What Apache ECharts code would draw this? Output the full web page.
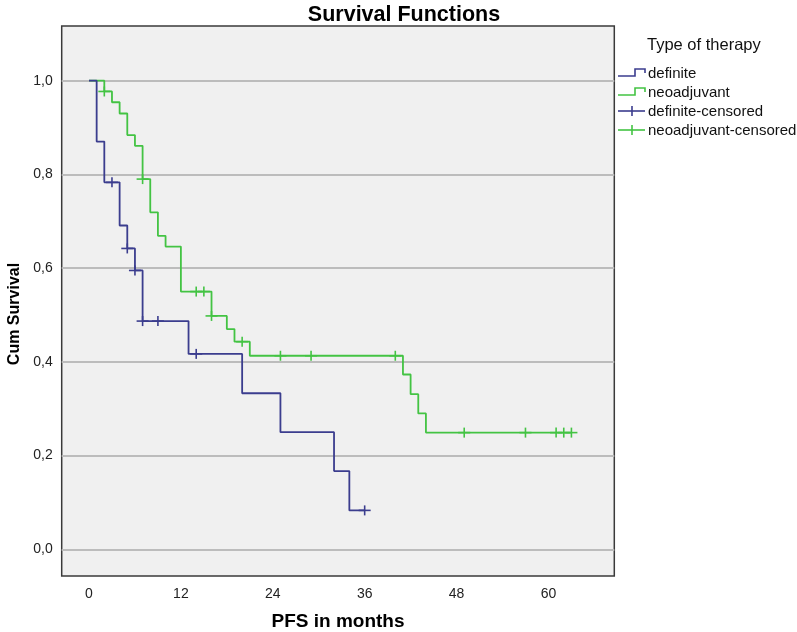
<!DOCTYPE html>
<html>
<head>
<meta charset="utf-8">
<script src="https://cdn.jsdelivr.net/npm/echarts@6/dist/echarts.min.js"></script>
<style>
  html, body { margin: 0; padding: 0; background: #ffffff; }
  #chart { width: 797px; height: 632px; }
</style>
</head>
<body>
<div id="chart"></div>
<script>
// ---- data ----
const seriesNames = ['definite', 'neoadjuvant', 'definite-censored', 'neoadjuvant-censored'];

const defTimes = [0, 1, 2, 4, 5, 6, 7, 13, 20, 25, 32, 34, 36];
const defSurv  = [1.000, 0.870, 0.783, 0.691, 0.642, 0.595, 0.487, 0.417, 0.333, 0.250, 0.167, 0.083, 0.083];
const defCensTimes = [3, 5, 6, 7, 9, 14, 36];
const defCensSurv  = [0.783, 0.642, 0.595, 0.487, 0.487, 0.417, 0.083];

const neoTimes = [0, 2, 3, 4, 5, 6, 7, 8, 9, 10, 12, 16, 18, 19, 21, 41, 42, 43, 44, 63];
const neoSurv  = [1.000, 0.977, 0.954, 0.930, 0.884, 0.861, 0.790, 0.719, 0.669, 0.646, 0.550, 0.498, 0.470, 0.443, 0.413, 0.373, 0.331, 0.290, 0.249, 0.249];
const neoCensTimes = [2, 7, 14, 15, 16, 20, 25, 29, 40, 49, 57, 61, 62, 63];
const neoCensSurv  = [0.977, 0.790, 0.550, 0.550, 0.498, 0.443, 0.413, 0.413, 0.413, 0.249, 0.249, 0.249, 0.249, 0.249];

const xTickValues = [0, 12, 24, 36, 48, 60];
const yTickValues = [0, 0.2, 0.4, 0.6, 0.8, 1.0];
const yTickLabels = ['0,0', '0,2', '0,4', '0,6', '0,8', '1,0'];

const titleText = 'Survival Functions';
const xName = 'PFS in months';
const yName = 'Cum Survival';
const legendTitle = 'Type of therapy';

// ---- styling ----
const BLUE = '#3b3d8e';
const GREEN = '#43c343';
const FONT = '"Liberation Sans", Arial, sans-serif';

const zip = (a, b) => a.map((v, i) => [v, b[i]]);

function censorRenderer(color) {
  return function (params, api) {
    const p = api.coord([api.value(0), api.value(1)]);
    const st = { stroke: color, lineWidth: 1.6 };
    return {
      type: 'group',
      children: [
        { type: 'line', shape: { x1: p[0] - 6, y1: p[1], x2: p[0] + 6, y2: p[1] }, style: st },
        { type: 'line', shape: { x1: p[0], y1: p[1] - 5, x2: p[0], y2: p[1] + 5 }, style: st }
      ]
    };
  };
}

const chart = echarts.init(document.getElementById('chart'), null, { renderer: 'canvas' });

// legend drawn as graphics (SPSS-style icons)
const LX = 618, LT = 648;
const legendRows = [73, 92, 111, 130];
const legendGraphics = [
  { type: 'text', left: 647, top: 37, style: { text: legendTitle, font: '16.5px ' + FONT, fill: '#111' } },
  { type: 'polyline', shape: { points: [[LX, legendRows[0] + 3], [LX + 17, legendRows[0] + 3], [LX + 17, legendRows[0] - 4], [LX + 27, legendRows[0] - 4], [LX + 27, legendRows[0]]] }, style: { stroke: BLUE, lineWidth: 1.6, fill: null } },
  { type: 'text', left: LT, top: legendRows[0] - 7, style: { text: seriesNames[0], font: '15px ' + FONT, fill: '#111' } },
  { type: 'polyline', shape: { points: [[LX, legendRows[1] + 3], [LX + 17, legendRows[1] + 3], [LX + 17, legendRows[1] - 4], [LX + 27, legendRows[1] - 4], [LX + 27, legendRows[1]]] }, style: { stroke: GREEN, lineWidth: 1.6, fill: null } },
  { type: 'text', left: LT, top: legendRows[1] - 7, style: { text: seriesNames[1], font: '15px ' + FONT, fill: '#111' } },
  { type: 'line', shape: { x1: LX, y1: legendRows[2], x2: LX + 27, y2: legendRows[2] }, style: { stroke: BLUE, lineWidth: 1.6 } },
  { type: 'line', shape: { x1: LX + 14, y1: legendRows[2] - 5, x2: LX + 14, y2: legendRows[2] + 5 }, style: { stroke: BLUE, lineWidth: 1.6 } },
  { type: 'text', left: LT, top: legendRows[2] - 7, style: { text: seriesNames[2], font: '15px ' + FONT, fill: '#111' } },
  { type: 'line', shape: { x1: LX, y1: legendRows[3], x2: LX + 27, y2: legendRows[3] }, style: { stroke: GREEN, lineWidth: 1.6 } },
  { type: 'line', shape: { x1: LX + 14, y1: legendRows[3] - 5, x2: LX + 14, y2: legendRows[3] + 5 }, style: { stroke: GREEN, lineWidth: 1.6 } },
  { type: 'text', left: LT, top: legendRows[3] - 7, style: { text: seriesNames[3], font: '15px ' + FONT, fill: '#111' } }
];

const option = {
  backgroundColor: '#ffffff',
  animation: false,
  title: {
    text: titleText,
    left: 399,
    top: -1,
    textAlign: 'center',
    textStyle: { fontFamily: FONT, fontSize: 21.5, fontWeight: 'bold', color: '#000' }
  },
  grid: {
    left: 61.7, right: 797 - 614.3, top: 26, bottom: 632 - 576,
    containLabel: false, outerBoundsMode: 'none',
    show: true, backgroundColor: '#f0f0f0', borderColor: '#3a3a3a', borderWidth: 1.5
  },
  xAxis: {
    type: 'value',
    min: -3.565, max: 68.6,
    name: xName, nameLocation: 'middle', nameGap: 36,
    nameTextStyle: { fontFamily: FONT, fontSize: 19, fontWeight: 'bold', color: '#000' },
    axisLine: { show: false },
    axisTick: { show: false, customValues: xTickValues },
    splitLine: { show: false },
    axisLabel: {
      customValues: xTickValues, margin: 11,
      fontFamily: FONT, fontSize: 14, color: '#222'
    }
  },
  yAxis: {
    type: 'value',
    min: -0.057, max: 1.1167,
    name: yName, nameLocation: 'middle', nameGap: 36,
    nameTextStyle: { fontFamily: FONT, fontSize: 16, fontWeight: 'bold', color: '#000', padding: [0, 26, 0, 0] },
    axisLine: { show: false },
    axisTick: { show: false, customValues: yTickValues },
    splitLine: { show: true, lineStyle: { color: '#bcbcbc', width: 1.8 } },
    axisLabel: {
      customValues: yTickValues, margin: 9,
      fontFamily: FONT, fontSize: 14, color: '#222',
      formatter: function (v) {
        const i = yTickValues.findIndex(t => Math.abs(t - v) < 1e-6);
        return i >= 0 ? yTickLabels[i] : '';
      }
    }
  },
  series: [
    {
      name: seriesNames[0], type: 'line', step: 'end', showSymbol: false, symbol: 'none',
      lineStyle: { color: BLUE, width: 1.8 }, itemStyle: { color: BLUE },
      data: zip(defTimes, defSurv), z: 3
    },
    {
      name: seriesNames[1], type: 'line', step: 'end', showSymbol: false, symbol: 'none',
      lineStyle: { color: GREEN, width: 1.8 }, itemStyle: { color: GREEN },
      data: zip(neoTimes, neoSurv), z: 2
    },
    {
      name: seriesNames[2], type: 'custom', renderItem: censorRenderer(BLUE),
      encode: { x: 0, y: 1 }, data: zip(defCensTimes, defCensSurv), z: 4
    },
    {
      name: seriesNames[3], type: 'custom', renderItem: censorRenderer(GREEN),
      encode: { x: 0, y: 1 }, data: zip(neoCensTimes, neoCensSurv), z: 4
    }
  ],
  graphic: legendGraphics
};

chart.setOption(option);
</script>
</body>
</html>
